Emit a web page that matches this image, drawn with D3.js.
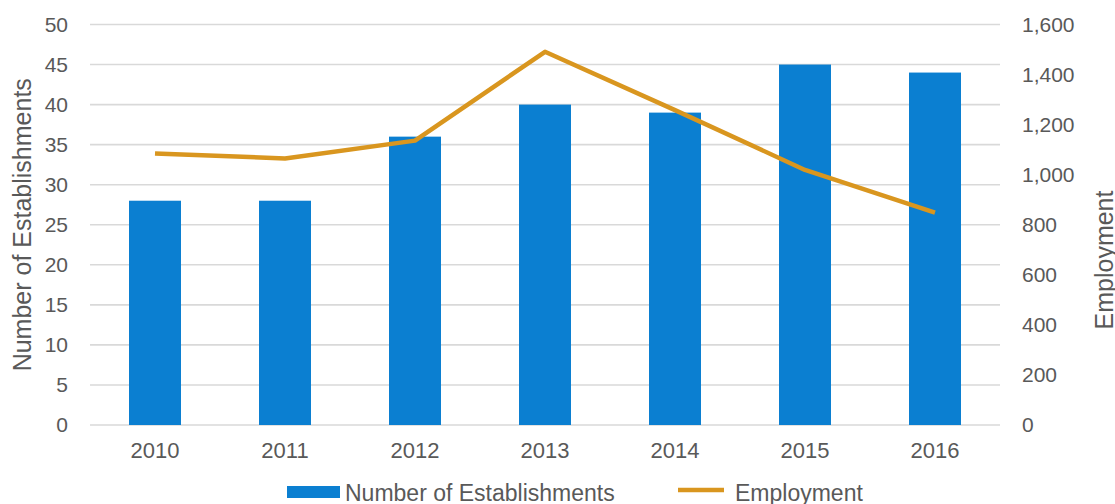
<!DOCTYPE html>
<html>
<head>
<meta charset="utf-8">
<script src="https://cdn.jsdelivr.net/npm/d3@7"></script>
<style>
  html, body { margin: 0; padding: 0; background: #ffffff; }
  svg text { font-family: "Liberation Sans", Arial, sans-serif; fill: #595959; }
</style>
</head>
<body>
<svg id="chart" width="1115" height="504"></svg>
<script>
// Establishments (bars, left axis) and employment (line, right axis), 2010-2016
const years = ["2010", "2011", "2012", "2013", "2014", "2015", "2016"];
const establishments = [28, 28, 36, 40, 39, 45, 44];
const employment = [1085, 1065, 1136, 1491, 1258, 1019, 848];
const leftTicks = [0, 5, 10, 15, 20, 25, 30, 35, 40, 45, 50];
const rightTicks = [0, 200, 400, 600, 800, 1000, 1200, 1400, 1600];
const seriesNames = ["Number of Establishments", "Employment"];

const barColor = "#0B7FD1";
const lineColor = "#D9961F";
const gridColor = "#d9d9d9";

const svg = d3.select("#chart");
const plot = { left: 90, right: 1000, top: 24.5, bottom: 425 };

const x = d3.scaleBand().domain(years).range([plot.left, plot.right]).paddingInner(0.6).paddingOuter(0.3);
const yLeft = d3.scaleLinear().domain([0, 50]).range([plot.bottom, plot.top]);
const yRight = d3.scaleLinear().domain([0, 1600]).range([plot.bottom, plot.top]);

// Horizontal gridlines
svg.append("g")
  .selectAll("line")
  .data(leftTicks)
  .join("line")
  .attr("x1", plot.left).attr("x2", plot.right)
  .attr("y1", d => yLeft(d)).attr("y2", d => yLeft(d))
  .attr("stroke", gridColor).attr("stroke-width", 1.6);

// Left axis
const leftAxis = svg.append("g")
  .attr("transform", `translate(${plot.left - 22},0)`)
  .call(d3.axisLeft(yLeft).tickValues(leftTicks).tickSize(0).tickPadding(0));
leftAxis.select(".domain").remove();
leftAxis.selectAll("text").style("font-size", "21px").attr("fill", "#595959");

// Right axis
const rightAxis = svg.append("g")
  .attr("transform", `translate(${plot.right + 22},0)`)
  .call(d3.axisRight(yRight).tickValues(rightTicks).tickSize(0).tickPadding(0).tickFormat(d3.format(",")));
rightAxis.select(".domain").remove();
rightAxis.selectAll("text").style("font-size", "21px").attr("fill", "#595959");

// Bottom axis
const bottomAxis = svg.append("g")
  .attr("transform", `translate(0,${plot.bottom + 17})`)
  .call(d3.axisBottom(x).tickSize(0).tickPadding(0));
bottomAxis.select(".domain").remove();
bottomAxis.selectAll("text").style("font-size", "22px").attr("fill", "#595959");

// Bars
svg.append("g")
  .selectAll("rect")
  .data(years.map((y, i) => ({ year: y, value: establishments[i] })))
  .join("rect")
  .attr("x", d => x(d.year))
  .attr("width", x.bandwidth())
  .attr("y", d => yLeft(d.value))
  .attr("height", d => yLeft(0) - yLeft(d.value))
  .attr("fill", barColor);

// Employment line
const line = d3.line()
  .x((d, i) => x(years[i]) + x.bandwidth() / 2)
  .y(d => yRight(d));
svg.append("path")
  .datum(employment)
  .attr("d", line)
  .attr("fill", "none")
  .attr("stroke", lineColor)
  .attr("stroke-width", 4.5)
  .attr("stroke-linejoin", "round")
  .attr("stroke-linecap", "butt");

// Axis titles
svg.append("text")
  .attr("transform", `translate(31,${(plot.top + plot.bottom) / 2}) rotate(-90)`)
  .attr("text-anchor", "middle")
  .style("font-size", "25px")
  .text("Number of Establishments");

svg.append("text")
  .attr("transform", `translate(1113,260) rotate(-90)`)
  .attr("text-anchor", "middle")
  .style("font-size", "25px")
  .text("Employment");

// Legend
const legend = svg.append("g");
legend.append("rect")
  .attr("x", 287).attr("y", 486).attr("width", 53).attr("height", 12)
  .attr("fill", barColor);
legend.append("text")
  .attr("x", 345).attr("y", 501)
  .style("font-size", "23px")
  .text(seriesNames[0]);
legend.append("line")
  .attr("x1", 678).attr("x2", 724).attr("y1", 490).attr("y2", 490)
  .attr("stroke", lineColor).attr("stroke-width", 4.5);
legend.append("text")
  .attr("x", 735).attr("y", 501)
  .style("font-size", "23px")
  .text(seriesNames[1]);
</script>
</body>
</html>
